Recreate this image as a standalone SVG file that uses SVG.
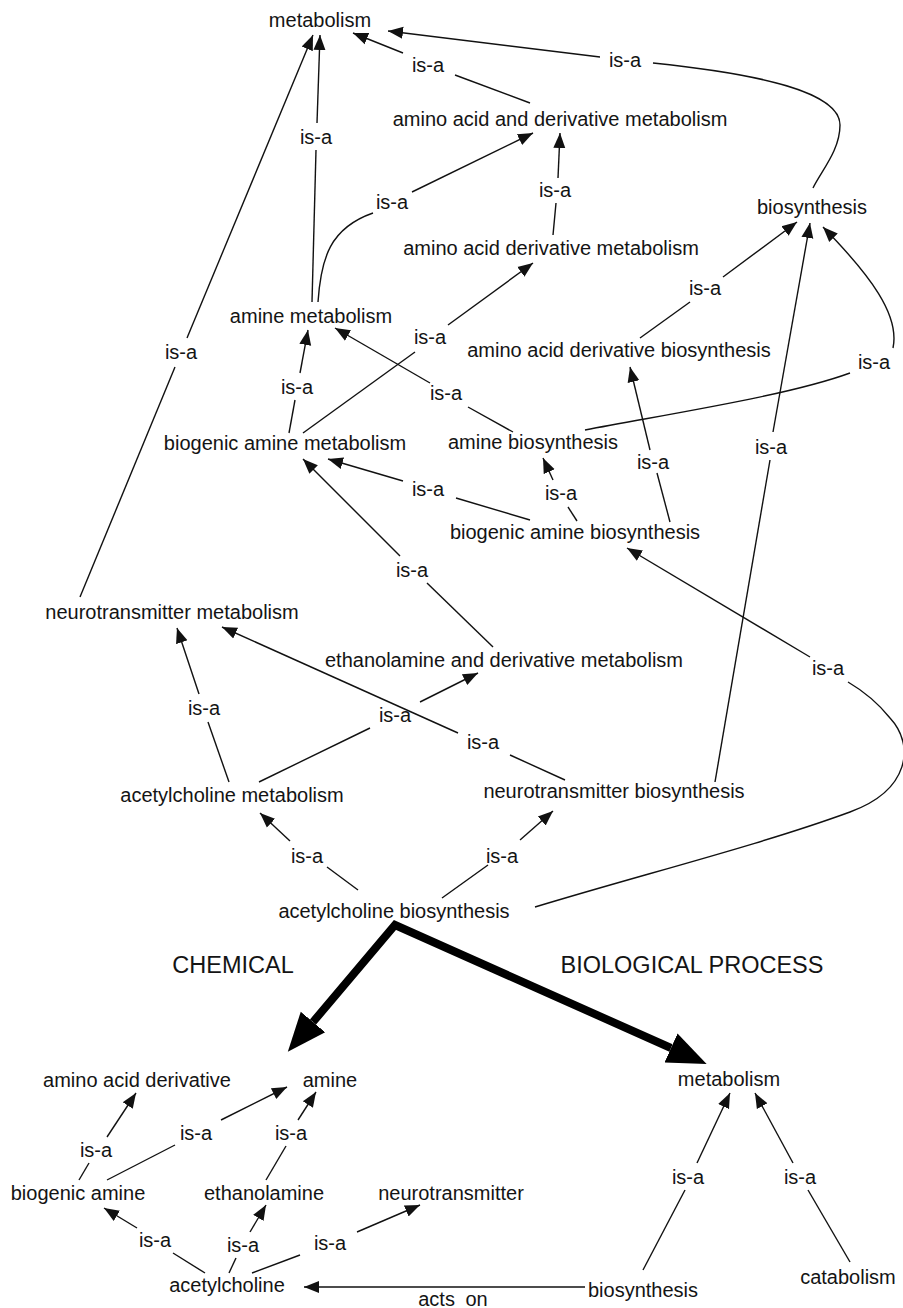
<svg xmlns="http://www.w3.org/2000/svg" width="903" height="1308" viewBox="0 0 903 1308">
<style>
text{font-family:"Liberation Sans",Arial,sans-serif;font-size:20px;fill:#141414;text-anchor:middle}
.sec{font-size:23.5px}
.e{fill:none;stroke:#111;stroke-width:1.4}
.ea{fill:none;stroke:#111;stroke-width:1.4;marker-end:url(#a)}
.thick{fill:none;stroke:#000;stroke-width:8;stroke-linejoin:miter;marker-start:url(#b);marker-end:url(#b)}
</style>
<defs>
<marker id="a" markerUnits="userSpaceOnUse" markerWidth="16" markerHeight="14" viewBox="0 0 16 14" refX="15" refY="7" orient="auto"><path d="M0,1 L15,7 L0,13 z" fill="#111"/></marker>
<marker id="b" markerUnits="userSpaceOnUse" markerWidth="40" markerHeight="34" viewBox="0 0 40 34" refX="0" refY="17" orient="auto-start-reverse"><path d="M0,1 L39,17 L0,33 z" fill="#000"/></marker>
</defs>
<rect width="903" height="1308" fill="#fff"/>
<g id="connectors">
<!-- upper graph -->
<line class="e" x1="530" y1="103" x2="455" y2="75"/><line class="ea" x1="403" y1="53" x2="353" y2="33"/><text x="428" y="72">is-a</text>
<path class="e" d="M813,188 C822,170 840,150 840,125 C840,92 760,74 653,63"/><line class="ea" x1="600" y1="57" x2="388" y2="31"/><text x="625" y="67">is-a</text>
<line class="e" x1="312" y1="302" x2="316" y2="150"/><line class="ea" x1="317" y1="123" x2="320" y2="35"/><text x="316" y="144">is-a</text>
<line class="e" x1="80" y1="597" x2="175" y2="367"/><line class="ea" x1="187" y1="338" x2="313" y2="35"/><text x="181" y="359">is-a</text>
<path class="e" d="M318,302 C321,258 330,228 373,213"/><line class="ea" x1="412" y1="192" x2="533" y2="133"/><text x="392" y="209">is-a</text>
<line class="e" x1="553" y1="235" x2="556" y2="203"/><line class="ea" x1="558" y1="178" x2="560" y2="133"/><text x="555" y="197">is-a</text>
<line class="e" x1="303" y1="433" x2="415" y2="352"/><line class="ea" x1="448" y1="325" x2="533" y2="263"/><text x="430" y="344">is-a</text>
<line class="e" x1="640" y1="338" x2="690" y2="302"/><line class="ea" x1="723" y1="277" x2="797" y2="222"/><text x="705" y="295">is-a</text>
<path class="e" d="M585,430 C680,412 790,395 850,373"/><path class="ea" d="M893,348 C900,315 870,275 823,227"/><text x="874" y="369">is-a</text>
<line class="e" x1="513" y1="432" x2="468" y2="407"/><line class="ea" x1="430" y1="383" x2="335" y2="328"/><text x="446" y="400">is-a</text>
<line class="e" x1="289" y1="433" x2="295" y2="400"/><line class="ea" x1="300" y1="373" x2="308" y2="330"/><text x="297" y="394">is-a</text>
<line class="e" x1="530" y1="520" x2="456" y2="498"/><line class="ea" x1="403" y1="481" x2="328" y2="459"/><text x="428" y="496">is-a</text>
<line class="e" x1="577" y1="521" x2="568" y2="507"/><line class="ea" x1="553" y1="480" x2="543" y2="458"/><text x="561" y="500">is-a</text>
<line class="e" x1="670" y1="522" x2="657" y2="473"/><line class="ea" x1="650" y1="450" x2="630" y2="367"/><text x="653" y="469">is-a</text>
<line class="e" x1="715" y1="782" x2="770" y2="460"/><line class="ea" x1="773" y1="432" x2="810" y2="223"/><text x="771" y="454">is-a</text>
<line class="e" x1="493" y1="647" x2="427" y2="583"/><line class="ea" x1="400" y1="556" x2="303" y2="459"/><text x="412" y="577">is-a</text>
<path class="e" d="M535,907 C640,875 760,845 850,812 C910,790 915,745 890,718 C878,703 865,692 848,682"/><line class="ea" x1="810" y1="657" x2="627" y2="548"/><text x="828" y="675">is-a</text>
<line class="e" x1="229" y1="782" x2="208" y2="722"/><line class="ea" x1="199" y1="694" x2="177" y2="628"/><text x="204" y="715">is-a</text>
<line class="e" x1="565" y1="780" x2="510" y2="755"/><line class="ea" x1="458" y1="733" x2="222" y2="627"/><text x="483" y="749">is-a</text>
<line class="e" x1="259" y1="782" x2="370" y2="728"/><line class="ea" x1="420" y1="702" x2="478" y2="673"/><text x="395" y="722">is-a</text>
<line class="e" x1="358" y1="890" x2="327" y2="867"/><line class="ea" x1="290" y1="841" x2="260" y2="813"/><text x="307" y="863">is-a</text>
<line class="e" x1="442" y1="898" x2="488" y2="865"/><line class="ea" x1="520" y1="840" x2="553" y2="811"/><text x="502" y="863">is-a</text>
<!-- section arrows -->
<polyline class="thick" points="313,1022 395,925 671,1048"/>
<!-- bottom left -->
<line class="e" x1="79" y1="1180" x2="89" y2="1163"/><line class="ea" x1="107" y1="1137" x2="136" y2="1093"/><text x="96" y="1157">is-a</text>
<line class="e" x1="107" y1="1180" x2="175" y2="1145"/><line class="ea" x1="221" y1="1120" x2="287" y2="1087"/><text x="196" y="1140">is-a</text>
<line class="e" x1="266" y1="1180" x2="286" y2="1146"/><line class="ea" x1="298" y1="1120" x2="316" y2="1092"/><text x="291" y="1140">is-a</text>
<line class="e" x1="205" y1="1273" x2="173" y2="1253"/><line class="ea" x1="137" y1="1228" x2="104" y2="1208"/><text x="155" y="1247">is-a</text>
<line class="e" x1="229" y1="1273" x2="236" y2="1258"/><line class="ea" x1="250" y1="1232" x2="266" y2="1205"/><text x="243" y="1252">is-a</text>
<line class="e" x1="252" y1="1273" x2="300" y2="1255"/><line class="ea" x1="357" y1="1232" x2="420" y2="1205"/><text x="330" y="1250">is-a</text>
<!-- bottom right -->
<line class="e" x1="643" y1="1270" x2="685" y2="1190"/><line class="ea" x1="697" y1="1163" x2="730" y2="1093"/><text x="688" y="1184">is-a</text>
<line class="e" x1="850" y1="1262" x2="808" y2="1190"/><line class="ea" x1="793" y1="1163" x2="755" y2="1093"/><text x="800" y="1184">is-a</text>
<line class="ea" x1="585" y1="1287" x2="304" y2="1287"/><text x="453" y="1306" style="word-spacing:5px">acts on</text>
</g>
<g id="n-metabolism"><text x="320" y="27">metabolism</text></g>
<g id="n-aa-and-deriv-metabolism"><text x="560" y="126">amino acid and derivative metabolism</text></g>
<g id="n-biosynthesis"><text x="812" y="214">biosynthesis</text></g>
<g id="n-aa-deriv-metabolism"><text x="551" y="255">amino acid derivative metabolism</text></g>
<g id="n-amine-metabolism"><text x="311" y="323">amine metabolism</text></g>
<g id="n-aa-deriv-biosynthesis"><text x="619" y="357">amino acid derivative biosynthesis</text></g>
<g id="n-biogenic-amine-metabolism"><text x="285" y="450">biogenic amine metabolism</text></g>
<g id="n-amine-biosynthesis"><text x="533" y="449">amine biosynthesis</text></g>
<g id="n-biogenic-amine-biosynthesis"><text x="575" y="539">biogenic amine biosynthesis</text></g>
<g id="n-neurotransmitter-metabolism"><text x="172" y="619">neurotransmitter metabolism</text></g>
<g id="n-ethanolamine-metabolism"><text x="504" y="667">ethanolamine and derivative metabolism</text></g>
<g id="n-acetylcholine-metabolism"><text x="232" y="802">acetylcholine metabolism</text></g>
<g id="n-neurotransmitter-biosynthesis"><text x="614" y="798">neurotransmitter biosynthesis</text></g>
<g id="n-acetylcholine-biosynthesis"><text x="394" y="918">acetylcholine biosynthesis</text></g>
<g id="sec-chemical"><text class="sec" x="233" y="973">CHEMICAL</text></g>
<g id="sec-process"><text class="sec" x="692" y="973">BIOLOGICAL PROCESS</text></g>
<g id="c-aa-derivative"><text x="137" y="1087">amino acid derivative</text></g>
<g id="c-amine"><text x="330" y="1087">amine</text></g>
<g id="p-metabolism"><text x="729" y="1086">metabolism</text></g>
<g id="c-biogenic-amine"><text x="78" y="1200">biogenic amine</text></g>
<g id="c-ethanolamine"><text x="264" y="1200">ethanolamine</text></g>
<g id="c-neurotransmitter"><text x="451" y="1200">neurotransmitter</text></g>
<g id="c-acetylcholine"><text x="227" y="1292">acetylcholine</text></g>
<g id="p-biosynthesis"><text x="643" y="1297">biosynthesis</text></g>
<g id="p-catabolism"><text x="848" y="1284">catabolism</text></g>
</svg>
